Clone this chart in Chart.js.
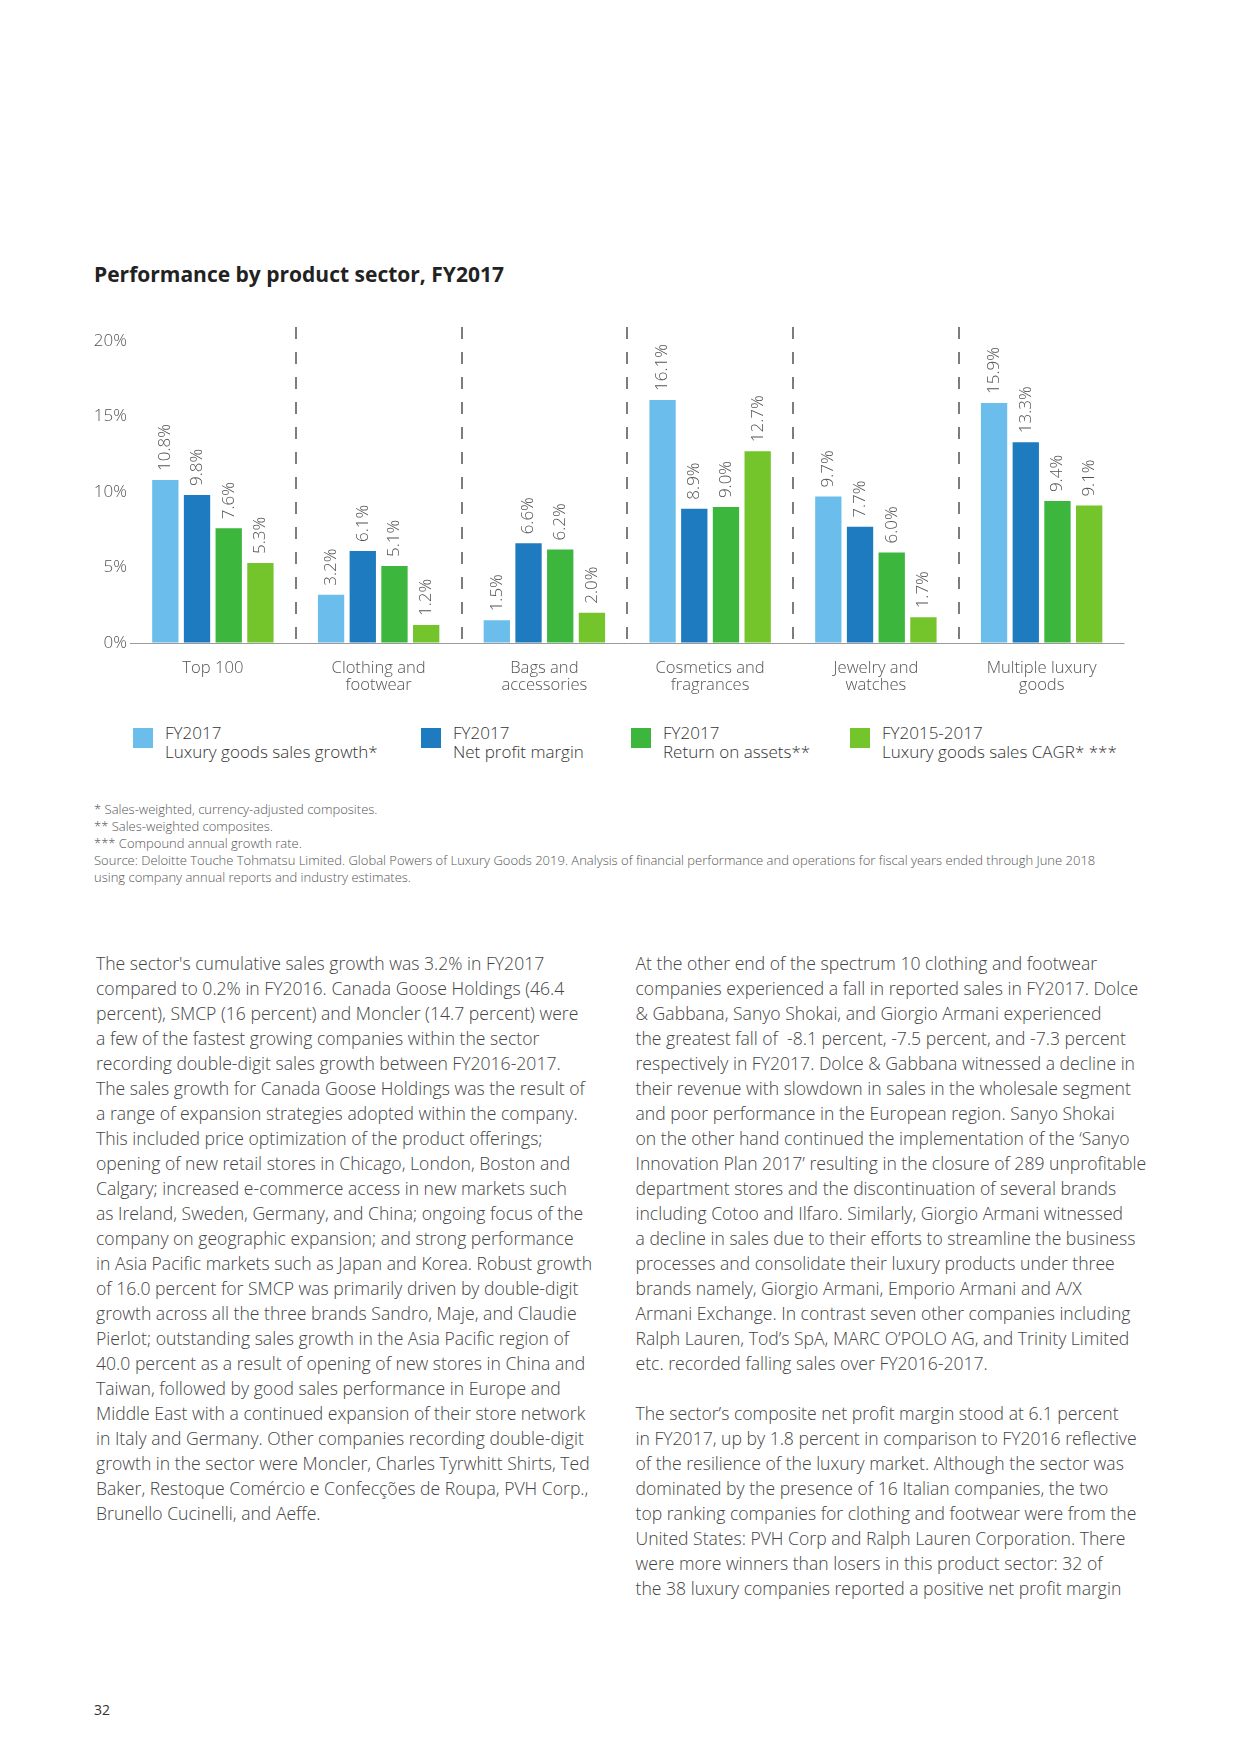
<!DOCTYPE html>
<html>
<head>
<meta charset="utf-8">
<title>Performance by product sector, FY2017</title>
<script src="https://cdn.jsdelivr.net/npm/chart.js@4.4.1/dist/chart.umd.min.js"></script>
<style>
  html, body { margin: 0; padding: 0; background: #fff; }
  body { width: 1240px; height: 1754px; position: relative; font-family: "Open Sans", sans-serif; color: #444; overflow: hidden; }
  .title { position: absolute; left: 94px; top: 260px; font-size: 21px; line-height: 28px; font-weight: 700; color: #222; white-space: nowrap; }
  #chartBox { position: absolute; left: 0; top: 300px; width: 1240px; height: 410px; }
  .legend-item { position: absolute; top: 723px; }
  .legend-item .sw { position: absolute; left: 0; top: 5px; width: 20px; height: 20px; }
  .legend-item .txt { position: absolute; left: 32px; top: 0; font-size: 17px; line-height: 19px; font-weight: 300; color: #333; white-space: nowrap; }
  .notes { position: absolute; left: 94px; top: 801px; font-size: 13px; line-height: 17.1px; font-weight: 300; color: #555; white-space: nowrap; }
  .col { position: absolute; top: 951px; font-size: 17.6px; line-height: 25px; font-weight: 300; color: #444; white-space: nowrap; }
  .col .gap { height: 25px; }
  .page { position: absolute; left: 94px; top: 1700px; font-size: 14px; line-height: 20px; color: #333; }
</style>
</head>
<body>

<div class="title">Performance by product sector, FY2017</div>

<div id="chartBox">
  <canvas id="sectorChart" width="1240" height="410"></canvas>
</div>

<div id="legend"></div>

<div class="notes">
  <div>* Sales-weighted, currency-adjusted composites.</div>
  <div>** Sales-weighted composites.</div>
  <div>*** Compound annual growth rate.</div>
  <div>Source: Deloitte Touche Tohmatsu Limited. Global Powers of Luxury Goods 2019. Analysis of financial performance and operations for fiscal years ended through June 2018</div>
  <div>using company annual reports and industry estimates.</div>
</div>

<div class="col" style="left:96px;">
  <div>The sector's cumulative sales growth was 3.2% in FY2017</div>
  <div>compared to 0.2% in FY2016. Canada Goose Holdings (46.4</div>
  <div>percent), SMCP (16 percent) and Moncler (14.7 percent) were</div>
  <div>a few of the fastest growing companies within the sector</div>
  <div>recording double-digit sales growth between FY2016-2017.</div>
  <div>The sales growth for Canada Goose Holdings was the result of</div>
  <div>a range of expansion strategies adopted within the company.</div>
  <div>This included price optimization of the product offerings;</div>
  <div>opening of new retail stores in Chicago, London, Boston and</div>
  <div>Calgary; increased e-commerce access in new markets such</div>
  <div>as Ireland, Sweden, Germany, and China; ongoing focus of the</div>
  <div>company on geographic expansion; and strong performance</div>
  <div>in Asia Pacific markets such as Japan and Korea. Robust growth</div>
  <div>of 16.0 percent for SMCP was primarily driven by double-digit</div>
  <div>growth across all the three brands Sandro, Maje, and Claudie</div>
  <div>Pierlot; outstanding sales growth in the Asia Pacific region of</div>
  <div>40.0 percent as a result of opening of new stores in China and</div>
  <div>Taiwan, followed by good sales performance in Europe and</div>
  <div>Middle East with a continued expansion of their store network</div>
  <div>in Italy and Germany. Other companies recording double-digit</div>
  <div>growth in the sector were Moncler, Charles Tyrwhitt Shirts, Ted</div>
  <div>Baker, Restoque Comércio e Confecções de Roupa, PVH Corp.,</div>
  <div>Brunello Cucinelli, and Aeffe.</div>
</div>

<div class="col" style="left:635.5px;">
  <div>At the other end of the spectrum 10 clothing and footwear</div>
  <div>companies experienced a fall in reported sales in FY2017. Dolce</div>
  <div>&amp; Gabbana, Sanyo Shokai, and Giorgio Armani experienced</div>
  <div>the greatest fall of &nbsp;-8.1 percent, -7.5 percent, and -7.3 percent</div>
  <div>respectively in FY2017. Dolce &amp; Gabbana witnessed a decline in</div>
  <div>their revenue with slowdown in sales in the wholesale segment</div>
  <div>and poor performance in the European region. Sanyo Shokai</div>
  <div>on the other hand continued the implementation of the ‘Sanyo</div>
  <div>Innovation Plan 2017’ resulting in the closure of 289 unprofitable</div>
  <div>department stores and the discontinuation of several brands</div>
  <div>including Cotoo and Ilfaro. Similarly, Giorgio Armani witnessed</div>
  <div>a decline in sales due to their efforts to streamline the business</div>
  <div>processes and consolidate their luxury products under three</div>
  <div>brands namely, Giorgio Armani, Emporio Armani and A/X</div>
  <div>Armani Exchange. In contrast seven other companies including</div>
  <div>Ralph Lauren, Tod’s SpA, MARC O’POLO AG, and Trinity Limited</div>
  <div>etc. recorded falling sales over FY2016-2017.</div>
  <div class="gap"></div>
  <div>The sector’s composite net profit margin stood at 6.1 percent</div>
  <div>in FY2017, up by 1.8 percent in comparison to FY2016 reflective</div>
  <div>of the resilience of the luxury market. Although the sector was</div>
  <div>dominated by the presence of 16 Italian companies, the two</div>
  <div>top ranking companies for clothing and footwear were from the</div>
  <div>United States: PVH Corp and Ralph Lauren Corporation. There</div>
  <div>were more winners than losers in this product sector: 32 of</div>
  <div>the 38 luxury companies reported a positive net profit margin</div>
</div>

<div class="page">32</div>

<script type="text/javascript">
  // data
  var categories = [
    ["Top 100"],
    ["Clothing and", "footwear"],
    ["Bags and", "accessories"],
    ["Cosmetics and", "fragrances"],
    ["Jewelry and", "watches"],
    ["Multiple luxury", "goods"]
  ];
  var salesGrowth     = [10.8, 3.2, 1.5, 16.1, 9.7, 15.9];
  var netProfitMargin = [9.8, 6.1, 6.6, 8.9, 7.7, 13.3];
  var returnOnAssets  = [7.6, 5.1, 6.2, 9.0, 6.0, 9.4];
  var salesCagr       = [5.3, 1.2, 2.0, 12.7, 1.7, 9.1];
  var yTicks = [0, 5, 10, 15, 20];

  var seriesNames = [
    ["FY2017", "Luxury goods sales growth*"],
    ["FY2017", "Net profit margin"],
    ["FY2017", "Return on assets**"],
    ["FY2015-2017", "Luxury goods sales CAGR* ***"]
  ];
  var seriesColors = ["#6bbeec", "#1f7bbf", "#3db63d", "#74c42b"];
  var legendLeft = [133, 421, 631, 850];

  // legend (html)
  var legendBox = document.getElementById("legend");
  seriesNames.forEach(function (name, i) {
    var item = document.createElement("div");
    item.className = "legend-item";
    item.style.left = legendLeft[i] + "px";
    item.innerHTML = '<div class="sw" style="background:' + seriesColors[i] + '"></div>' +
      '<div class="txt">' + name[0] + '<br>' + name[1] + '</div>';
    legendBox.appendChild(item);
  });

  // rotated value labels above bars
  var valueLabels = {
    id: "valueLabels",
    afterDatasetsDraw: function (chart) {
      var ctx = chart.ctx;
      ctx.save();
      ctx.font = '300 17px "Open Sans"';
      ctx.fillStyle = "#555";
      ctx.textAlign = "left";
      ctx.textBaseline = "middle";
      chart.data.datasets.forEach(function (ds, i) {
        chart.getDatasetMeta(i).data.forEach(function (bar, j) {
          ctx.save();
          ctx.translate(bar.x, bar.y - 9);
          ctx.rotate(-Math.PI / 2);
          ctx.fillText(ds.data[j].toFixed(1) + "%", 0, 0);
          ctx.restore();
        });
      });
      ctx.restore();
    }
  };

  Chart.defaults.font.family = '"Open Sans", sans-serif';

  var chart = new Chart("sectorChart", {
    type: "bar",
    data: {
      labels: categories,
      datasets: [
        { label: seriesNames[0].join(" "), data: salesGrowth, backgroundColor: seriesColors[0] },
        { label: seriesNames[1].join(" "), data: netProfitMargin, backgroundColor: seriesColors[1] },
        { label: seriesNames[2].join(" "), data: returnOnAssets, backgroundColor: seriesColors[2] },
        { label: seriesNames[3].join(" "), data: salesCagr, backgroundColor: seriesColors[3] }
      ]
    },
    options: {
      responsive: false,
      maintainAspectRatio: false,
      animation: false,
      categoryPercentage: 0.765,
      barPercentage: 0.83,
      layout: { padding: { left: 57, right: 115.5, top: 27, bottom: 0 } },
      plugins: {
        legend: { display: false },
        tooltip: { enabled: false }
      },
      scales: {
        x: {
          afterFit: function (s) { s.height = 67; },
          ticks: {
            padding: 17,
            color: "#555",
            maxRotation: 0,
            autoSkip: false,
            font: { size: 16.6, weight: "300", lineHeight: 1.02 }
          },
          grid: {
            offset: true,
            drawTicks: false,
            lineWidth: 2,
            color: function (c) {
              return (c.index > 0 && c.index < categories.length) ? "#7d7d7d" : "transparent";
            }
          },
          border: { display: false, dash: [12, 13] }
        },
        y: {
          min: 0,
          max: 20.93,
          afterBuildTicks: function (s) {
            s.ticks = yTicks.map(function (v) { return { value: v }; });
          },
          afterFit: function (s) { s.width = 73; },
          ticks: {
            padding: 3,
            color: "#555",
            font: { size: 17, weight: "300" },
            callback: function (v) { return v + "%"; }
          },
          grid: {
            drawTicks: false,
            lineWidth: 1,
            color: function (c) {
              return (c.tick && c.tick.value === 0) ? "#9a9a9a" : "transparent";
            }
          },
          border: { display: false }
        }
      }
    },
    plugins: [valueLabels]
  });
</script>
</body>
</html>
